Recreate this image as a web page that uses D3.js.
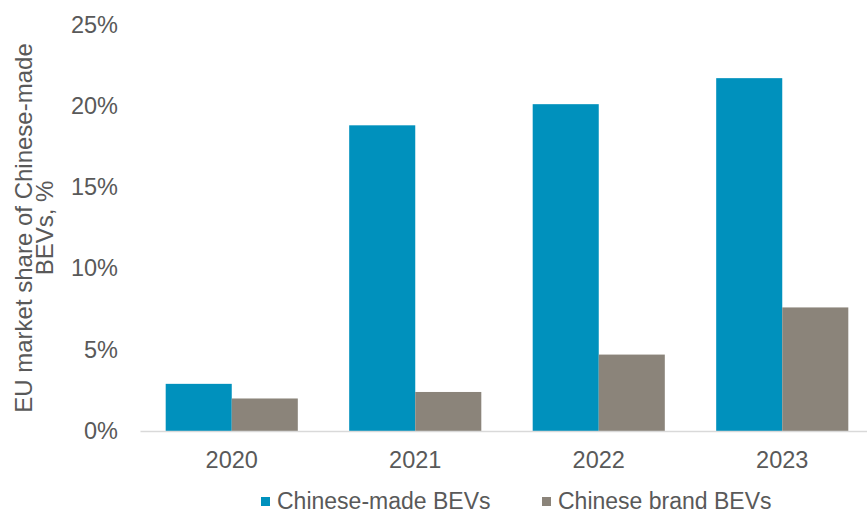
<!DOCTYPE html>
<html>
<head>
<meta charset="utf-8">
<script src="https://cdn.jsdelivr.net/npm/d3@7"></script>
<style>
  body { margin: 0; background: #fff; }
  svg text { font-family: "Liberation Sans", Arial, sans-serif; fill: #595959; }
</style>
</head>
<body>
<div class="graphHolder"></div>
<script>
let years = ["2020", "2021", "2022", "2023"];
let seriesNames = ["Chinese-made BEVs", "Chinese brand BEVs"];
let madeShare = [2.9, 18.8, 20.1, 21.7];
let brandShare = [2.0, 2.4, 4.7, 7.6];
let yTicks = [0, 5, 10, 15, 20, 25];
let colors = ["#0091bd", "#8b847a"];

let w = 867,
  h = 514,
  plotLeft = 140,
  plotRight = 874,
  plotTop = 24.5,
  plotBottom = 431,
  fontSize = 23.5;

let svg = d3.select(".graphHolder")
  .append("svg")
  .attr("width", w)
  .attr("height", h);

let xScale = d3.scaleBand()
  .domain(years)
  .range([plotLeft, plotRight])
  .paddingInner(0.28)
  .paddingOuter(0.14);

let xSub = d3.scaleBand()
  .domain(seriesNames)
  .range([0, xScale.bandwidth()]);

let yScale = d3.scaleLinear()
  .domain([0, 25])
  .range([plotBottom, plotTop]);

// y tick labels only, the chart has no y axis line or gridlines
let yAxis = d3.axisLeft(yScale)
  .tickValues(yTicks)
  .tickSize(0)
  .tickPadding(0)
  .tickFormat(d => d + "%");

svg.append("g")
  .attr("transform", "translate(118,0)")
  .call(yAxis)
  .call(g => g.select(".domain").remove())
  .selectAll("text")
  .attr("font-size", fontSize)
  .style("font-family", "Liberation Sans, Arial, sans-serif")
  .attr("fill", "#595959");

// bars
let rows = years.map((y, i) => ({ year: y, vals: [madeShare[i], brandShare[i]] }));

let groups = svg.selectAll(".grp")
  .data(rows)
  .enter()
  .append("g")
  .attr("class", "grp")
  .attr("transform", d => "translate(" + xScale(d.year) + ",0)");

groups.selectAll("rect")
  .data(d => d.vals.map((v, j) => ({ name: seriesNames[j], v: v, j: j })))
  .enter()
  .append("rect")
  .attr("x", d => xSub(d.name))
  .attr("y", d => yScale(d.v))
  .attr("width", xSub.bandwidth())
  .attr("height", d => yScale(0) - yScale(d.v))
  .attr("fill", d => colors[d.j]);

// x axis
let xAxis = d3.axisBottom(xScale).tickSize(0).tickPadding(20);

svg.append("g")
  .attr("transform", "translate(0," + plotBottom + ")")
  .call(xAxis)
  .call(g => g.select(".domain").attr("stroke", "#d9d9d9").attr("stroke-width", 1.5))
  .selectAll("text")
  .attr("font-size", fontSize)
  .style("font-family", "Liberation Sans, Arial, sans-serif")
  .attr("fill", "#595959");

// y axis title (two lines, tight spacing)
let title = svg.append("text")
  .attr("transform", "translate(32,228) rotate(-90)")
  .attr("text-anchor", "middle")
  .attr("font-size", 24);
title.append("tspan").attr("x", 0).attr("dy", 0).text("EU market share of Chinese-made");
title.append("tspan").attr("x", 0).attr("dy", 20.5).text("BEVs, %");

// legend
let legendX = [261, 542];
let legend = svg.selectAll(".leg")
  .data(seriesNames)
  .enter()
  .append("g")
  .attr("class", "leg")
  .attr("transform", (d, i) => "translate(" + legendX[i] + ",497)");

legend.append("rect")
  .attr("width", 9)
  .attr("height", 9)
  .attr("fill", (d, i) => colors[i]);

legend.append("text")
  .attr("x", 16)
  .attr("y", 12)
  .attr("font-size", 23)
  .text(d => d);
</script>
</body>
</html>
